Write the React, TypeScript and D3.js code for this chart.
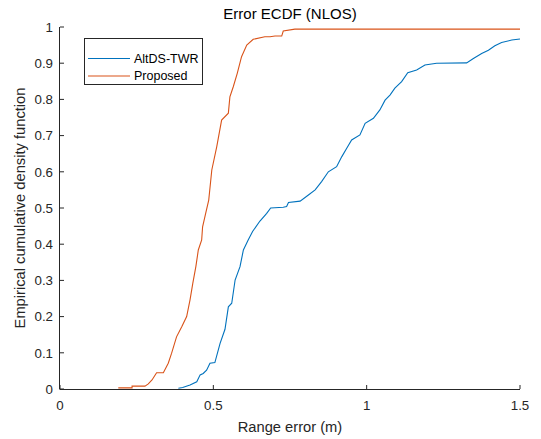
import React from "react";
import * as d3 from "d3";

const altX = [0.386,0.40,0.424,0.446,0.457,0.467,0.478,0.489,0.505,0.522,0.538,0.549,0.560,0.571,0.587,0.598,0.614,0.628,0.652,0.674,0.687,0.728,0.739,0.745,0.783,0.810,0.832,0.853,0.875,0.902,0.919,0.935,0.951,0.978,0.995,1.022,1.043,1.060,1.076,1.092,1.114,1.134,1.163,1.190,1.228,1.326,1.348,1.375,1.397,1.418,1.440,1.473,1.5];
const altY = [0.002,0.004,0.011,0.02,0.039,0.043,0.052,0.071,0.073,0.126,0.165,0.227,0.237,0.301,0.338,0.384,0.412,0.435,0.464,0.485,0.500,0.502,0.504,0.515,0.519,0.536,0.550,0.573,0.600,0.614,0.642,0.665,0.688,0.702,0.734,0.748,0.771,0.798,0.812,0.831,0.849,0.874,0.881,0.895,0.900,0.901,0.913,0.927,0.936,0.948,0.957,0.964,0.967];

const propX = [0.19,0.235,0.235,0.277,0.288,0.300,0.315,0.337,0.353,0.364,0.380,0.397,0.413,0.424,0.433,0.443,0.451,0.462,0.465,0.475,0.485,0.495,0.511,0.527,0.549,0.554,0.565,0.578,0.592,0.609,0.630,0.668,0.685,0.701,0.723,0.728,0.766,1.5];
const propY = [0.003,0.003,0.008,0.008,0.014,0.025,0.045,0.045,0.071,0.099,0.144,0.172,0.2,0.246,0.292,0.338,0.384,0.412,0.448,0.485,0.522,0.605,0.669,0.743,0.762,0.807,0.835,0.872,0.918,0.950,0.966,0.973,0.973,0.975,0.975,0.989,0.994,0.994];

const xTicks = [0, 0.5, 1, 1.5];
const yTicks = [0, 0.1, 0.2, 0.3, 0.4, 0.5, 0.6, 0.7, 0.8, 0.9, 1];
const seriesNames = ["AltDS-TWR", "Proposed"];
const seriesColors = ["#0072BD", "#D95319"];

const W = 541, H = 439;
const L = 60, R = 520, T = 27, B = 389;
const FONT = "'Liberation Sans', Arial, Helvetica, sans-serif";
const AX = "#262626";

export default function App() {
  const x = d3.scaleLinear().domain([0, 1.5]).range([L, R]);
  const y = d3.scaleLinear().domain([0, 1]).range([B, T]);
  const line = d3.line<[number, number]>().x(d => x(d[0])).y(d => y(d[1])).curve(d3.curveLinear);
  const alt: [number, number][] = altX.map((v, i) => [v, altY[i]]);
  const prop: [number, number][] = propX.map((v, i) => [v, propY[i]]);
  const series = [alt, prop];
  const fmt = (v: number) => String(+v.toFixed(1));

  return (
    <svg width={W} height={H} style={{ position: "absolute", left: 0, top: 0, background: "#fff" }} fontFamily={FONT}>
      <rect x={0} y={0} width={W} height={H} fill="#fff" />
      {series.map((s, i) => (
        <path key={i} d={line(s) || ""} fill="none" stroke={seriesColors[i]} strokeWidth={1.1} />
      ))}
      {/* axes */}
      <line x1={L} y1={B + 0.5} x2={R} y2={B + 0.5} stroke={AX} strokeWidth={1} />
      <line x1={L - 0.5} y1={T} x2={L - 0.5} y2={B + 0.5} stroke={AX} strokeWidth={1} />
      {xTicks.map(t => (
        <g key={"x" + t}>
          <line x1={x(t)} x2={x(t)} y1={B} y2={B - 4} stroke={AX} />
          <text x={x(t)} y={410} textAnchor="middle" fontSize={13.3} fill={AX}>{fmt(t)}</text>
        </g>
      ))}
      {yTicks.map(t => (
        <g key={"y" + t}>
          <line x1={L} x2={L + 4} y1={y(t)} y2={y(t)} stroke={AX} />
          <text x={53} y={y(t) + 4.7} textAnchor="end" fontSize={13.3} fill={AX}>{fmt(t)}</text>
        </g>
      ))}
      <text x={290} y={19} textAnchor="middle" fontSize={15} fill="#000">Error ECDF (NLOS)</text>
      <text x={290} y={432} textAnchor="middle" fontSize={14.7} fill={AX}>Range error (m)</text>
      <text transform={`translate(25,${(T + B) / 2}) rotate(-90)`} textAnchor="middle" fontSize={14.7} fill={AX}>Empirical cumulative density function</text>
      {/* legend */}
      <rect x={84.5} y={38.5} width={118} height={46} fill="#fff" stroke={AX} strokeWidth={1} />
      {seriesNames.map((n, i) => (
        <g key={n}>
          <line x1={88} x2={130} y1={58.5 + i * 17.5} y2={58.5 + i * 17.5} stroke={seriesColors[i]} strokeWidth={1.1} />
          <text x={134} y={58.5 + i * 17.5 + 4.3} fontSize={12.5} fill="#000">{n}</text>
        </g>
      ))}
    </svg>
  );
}
